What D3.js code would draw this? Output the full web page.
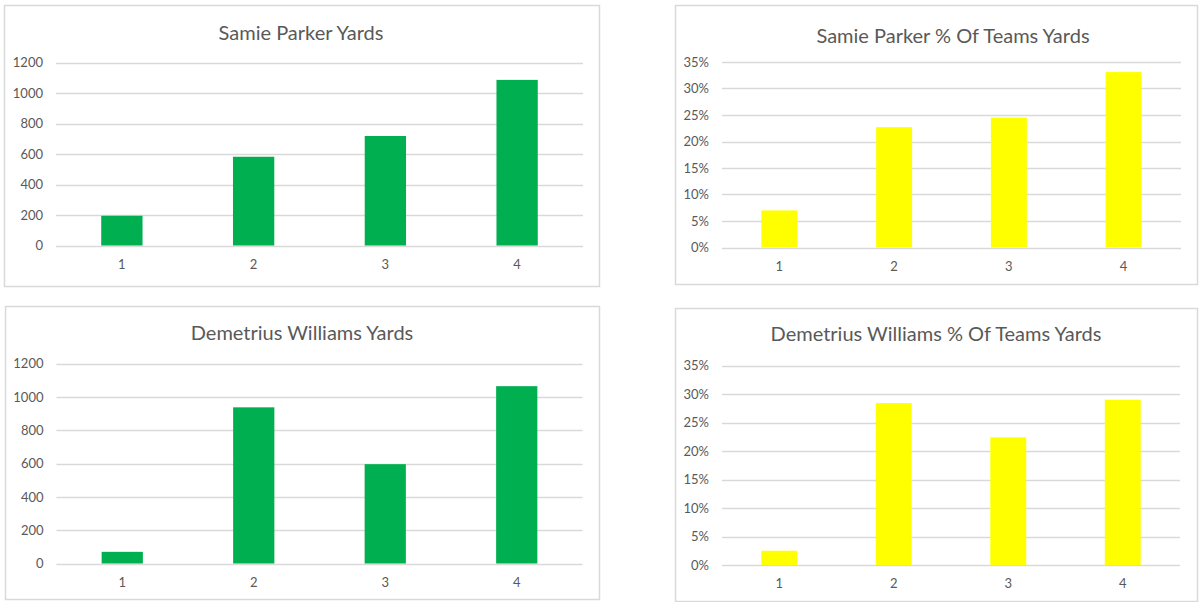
<!DOCTYPE html>
<html>
<head>
<meta charset="utf-8">
<script src="https://cdn.jsdelivr.net/npm/d3@7"></script>
<style>
  body { margin: 0; background: #fff; }
  svg { display: block; font-family: Lato, "Noto Sans", sans-serif; }
</style>
</head>
<body>
<svg width="1200" height="602"></svg>
<script>
const quarters = ["1", "2", "3", "4"];
const parkerYards = [195, 582, 718, 1086];
const parkerPct = [0.070, 0.227, 0.245, 0.331];
const williamsYards = [70, 937, 596, 1064];
const williamsPct = [0.025, 0.284, 0.224, 0.290];
const yardTicks = [0, 200, 400, 600, 800, 1000, 1200];
const pctTicks = [0, 0.05, 0.10, 0.15, 0.20, 0.25, 0.30, 0.35];

const svg = d3.select("svg");

const panels = [
    { title: "Samie Parker Yards", values: parkerYards, ticks: yardTicks, fmt: d3.format("d"), color: "#00b050",
      box: [4, 5, 599, 286], plot: [56, 62.5, 583, 245.5], titleX: 301, titleY: 31.5 },
    { title: "Samie Parker % Of Teams Yards", values: parkerPct, ticks: pctTicks, fmt: d3.format(".0%"), color: "#ffff00",
      box: [675, 5, 1197, 284], plot: [722, 62, 1181, 247.5], titleX: 953, titleY: 35 },
    { title: "Demetrius Williams Yards", values: williamsYards, ticks: yardTicks, fmt: d3.format("d"), color: "#00b050",
      box: [5, 306, 599, 599], plot: [56.5, 363.5, 582.5, 563.5], titleX: 302, titleY: 331.5 },
    { title: "Demetrius Williams % Of Teams Yards", values: williamsPct, ticks: pctTicks, fmt: d3.format(".0%"), color: "#ffff00",
      box: [675, 308, 1197, 601], plot: [722, 365.5, 1180, 565], titleX: 936, titleY: 332.5 }
];

panels.forEach(drawPanel);

function drawPanel(p) {
    const [bx0, by0, bx1, by1] = p.box;
    const [px0, py0, px1, py1] = p.plot;
    const g = svg.append("g");

    g.append("rect")
        .attr("x", bx0 + 0.5).attr("y", by0 + 0.5)
        .attr("width", bx1 - bx0).attr("height", by1 - by0)
        .attr("fill", "#fff")
        .attr("stroke", "#d9d9d9")
        .attr("stroke-width", 1.5);

    g.append("text")
        .attr("x", p.titleX).attr("y", p.titleY)
        .attr("text-anchor", "middle")
        .attr("dominant-baseline", "central")
        .attr("fill", "#595959")
        .attr("font-size", 20)
        .text(p.title);

    const x = d3.scaleBand()
        .domain(quarters)
        .range([px0, px1])
        .paddingInner(0.6865)
        .paddingOuter(0.6865 / 2);

    const y = d3.scaleLinear()
        .domain([p.ticks[0], p.ticks[p.ticks.length - 1]])
        .range([py1, py0]);

    // gridlines
    g.append("g")
        .selectAll("line")
        .data(p.ticks)
        .join("line")
        .attr("x1", px0).attr("x2", px1)
        .attr("y1", d => Math.round(y(d)) + 0.5)
        .attr("y2", d => Math.round(y(d)) + 0.5)
        .attr("stroke", "#d9d9d9")
        .attr("stroke-width", 1.3);

    // y axis labels
    const yAxis = g.append("g")
        .attr("transform", `translate(${px0 - 13},0)`)
        .call(d3.axisLeft(y).tickValues(p.ticks).tickFormat(p.fmt).tickSize(0).tickPadding(0));
    yAxis.select(".domain").remove();
    yAxis.selectAll("text")
        .attr("fill", "#595959")
        .attr("font-size", 13)
        .attr("font-family", "Lato, 'Noto Sans', sans-serif");

    // bars
    g.append("g")
        .selectAll("rect")
        .data(p.values)
        .join("rect")
        .attr("x", (d, i) => x(quarters[i]))
        .attr("width", x.bandwidth())
        .attr("y", d => y(d))
        .attr("height", d => y(0) - y(d))
        .attr("fill", p.color);

    // x axis labels
    const xAxis = g.append("g")
        .attr("transform", `translate(0,${py1 + 14})`)
        .call(d3.axisBottom(x).tickSize(0).tickPadding(0));
    xAxis.select(".domain").remove();
    xAxis.selectAll("text")
        .attr("fill", "#595959")
        .attr("font-size", 13)
        .attr("font-family", "Lato, 'Noto Sans', sans-serif");
}
</script>
</body>
</html>
